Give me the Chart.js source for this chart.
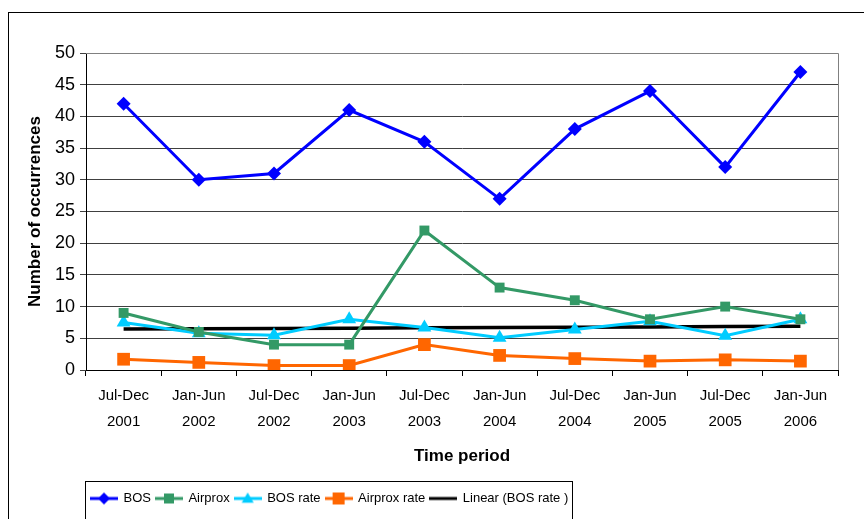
<!DOCTYPE html>
<html>
<head>
<meta charset="utf-8">
<script src="https://cdn.jsdelivr.net/npm/chart.js@4"></script>
<style>
  html, body { margin: 0; padding: 0; background: #fff; }
  #wrap { width: 864px; height: 519px; position: relative; }
</style>
</head>
<body>
<div id="wrap"><canvas id="occChart" width="864" height="519"></canvas></div>
<script>
// chart data
const periods = [
    ['Jul-Dec', '2001'], ['Jan-Jun', '2002'], ['Jul-Dec', '2002'], ['Jan-Jun', '2003'],
    ['Jul-Dec', '2003'], ['Jan-Jun', '2004'], ['Jul-Dec', '2004'], ['Jan-Jun', '2005'],
    ['Jul-Dec', '2005'], ['Jan-Jun', '2006']
];
const bos = [42, 30, 31, 41, 36, 27, 38, 44, 32, 47];
const airprox = [9, 6, 4, 4, 22, 13, 11, 8, 10, 8];
const bosRate = [7.5, 5.8, 5.5, 8.0, 6.7, 5.1, 6.4, 7.7, 5.4, 8.0];
const airproxRate = [1.7, 1.2, 0.7, 0.7, 4.0, 2.3, 1.8, 1.4, 1.6, 1.4];
const bosRateTrend = [6.45, 6.5, 6.55, 6.6, 6.65, 6.7, 6.75, 6.8, 6.85, 6.9];
const yTicks = [0, 5, 10, 15, 20, 25, 30, 35, 40, 45, 50];

const FONT = "'Liberation Sans', Arial, sans-serif";

// small line+marker images for the legend
function legendIcon(color, style, r) {
    const c = document.createElement('canvas');
    c.width = 28; c.height = 18;
    const g = c.getContext('2d');
    g.strokeStyle = color; g.fillStyle = color; g.lineWidth = 3;
    g.beginPath(); g.moveTo(0, 9); g.lineTo(28, 9); g.stroke();
    g.beginPath();
    if (style === 'rectRot') {
        g.moveTo(14, 9 - r); g.lineTo(14 + r, 9); g.lineTo(14, 9 + r); g.lineTo(14 - r, 9);
    } else if (style === 'rect') {
        g.rect(14 - r, 9 - r, 2 * r, 2 * r);
    } else if (style === 'triangle') {
        g.moveTo(14, 9 - r); g.lineTo(14 + r, 9 + r * 0.7); g.lineTo(14 - r, 9 + r * 0.7);
    }
    g.closePath();
    if (style) g.fill();
    return c;
}

const frame = {
    id: 'frame',
    beforeDraw(chart) {
        const ctx = chart.ctx;
        ctx.save();
        ctx.strokeStyle = '#000';
        ctx.lineWidth = 1;
        ctx.strokeRect(8.5, 12.5, 1000, 1000);
        ctx.restore();
    },
    beforeDatasetsDraw(chart) {
        const a = chart.chartArea;
        const ctx = chart.ctx;
        ctx.save();
        ctx.strokeStyle = '#808080';
        ctx.lineWidth = 1;
        ctx.beginPath();
        ctx.moveTo(a.left, a.top + 0.5); ctx.lineTo(a.right + 0.5, a.top + 0.5);
        ctx.lineTo(a.right + 0.5, a.bottom);
        ctx.stroke();
        ctx.restore();
    },
    afterDraw(chart) {
        const boxes = chart.legend.legendHitBoxes;
        if (!boxes || !boxes.length) return;
        const first = boxes[0], last = boxes[boxes.length - 1];
        const ctx = chart.ctx;
        ctx.save();
        ctx.strokeStyle = '#000';
        ctx.lineWidth = 1;
        ctx.strokeRect(Math.round(first.left) - 5.5, Math.round(first.top) - 10.5,
            Math.round(last.left + last.width - first.left) + 10, 60);
        ctx.restore();
    }
};

const seriesDefs = [
    { label: 'BOS', data: bos, color: '#0000FF', style: 'rectRot', r: 7, ir: 6 },
    { label: 'Airprox', data: airprox, color: '#339966', style: 'rect', r: 7, ir: 5 },
    { label: 'BOS rate', data: bosRate, color: '#00CCFF', style: 'triangle', r: 8, ir: 6 },
    { label: 'Airprox rate', data: airproxRate, color: '#FF6600', style: 'rect', r: 9, ir: 6 },
    { label: 'Linear (BOS rate )', data: bosRateTrend, color: '#000000', style: false, r: 0, ir: 0 }
];

const ctx = document.getElementById('occChart').getContext('2d');
const occChart = new Chart(ctx, {
    type: 'line',
    data: {
        labels: periods,
        datasets: seriesDefs.map(s => ({
            label: s.label,
            data: s.data,
            borderColor: s.color,
            backgroundColor: s.color,
            borderWidth: s.style ? 3 : 3.5,
            pointStyle: s.style,
            pointRadius: s.r,
            pointBorderWidth: 0,
            pointHoverRadius: s.r,
            tension: 0,
            fill: false
        }))
    },
    options: {
        responsive: false,
        animation: false,
        layout: { padding: { top: 53, right: 26, left: 0, bottom: 4 } },
        scales: {
            x: {
                offset: true,
                grid: {
                    offset: true,
                    drawOnChartArea: false,
                    drawTicks: true,
                    tickLength: 6,
                    color: '#000'
                },
                border: { color: '#000', width: 1 },
                ticks: {
                    color: '#000',
                    font: { family: FONT, size: 15, lineHeight: 1.73 },
                    padding: 7,
                    maxRotation: 0,
                    autoSkip: false
                },
                title: {
                    display: true,
                    text: 'Time period',
                    color: '#000',
                    font: { family: FONT, size: 17, weight: 'bold' },
                    padding: { top: 4, bottom: 20 }
                },
                afterFit: s => { s.height = 117; }
            },
            y: {
                min: 0,
                max: 50,
                afterBuildTicks: s => { s.ticks = yTicks.map(v => ({ value: v })); },
                grid: { color: '#404040', tickLength: 6, drawTicks: true },
                border: { color: '#000', width: 1 },
                ticks: {
                    color: '#000',
                    font: { family: FONT, size: 18 },
                    padding: 5
                },
                title: {
                    display: true,
                    text: 'Number of occurrences',
                    color: '#000',
                    font: { family: FONT, size: 17, weight: 'bold' },
                    padding: { top: 25, bottom: 0 }
                },
                afterFit: s => { s.width = 86; }
            }
        },
        plugins: {
            legend: {
                position: 'bottom',
                fullSize: false,
                align: 'start',
                labels: {
                    usePointStyle: true,
                    pointStyleWidth: 26,
                    padding: 5,
                    color: '#000',
                    font: { family: FONT, size: 13 },
                    generateLabels: chart => seriesDefs.map((s, i) => ({
                        text: s.label,
                        pointStyle: legendIcon(s.color, s.style, s.ir),
                        fillStyle: s.color,
                        strokeStyle: s.color,
                        lineWidth: 0,
                        hidden: false,
                        datasetIndex: i
                    }))
                }
            },
            tooltip: { enabled: false }
        }
    },
    plugins: [frame]
});
</script>
</body>
</html>
